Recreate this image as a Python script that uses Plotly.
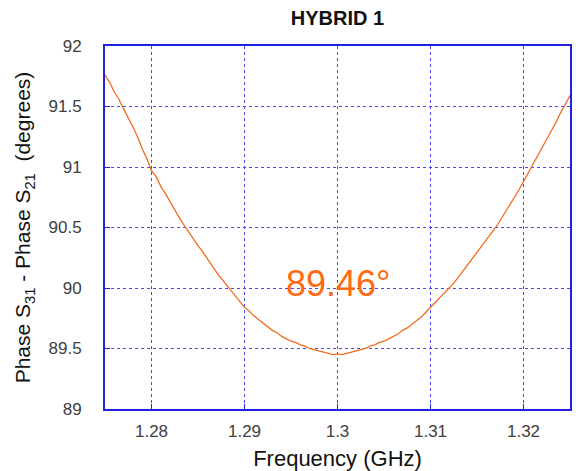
import plotly.graph_objects as go

freq_ghz = [1.2750, 1.2755, 1.2760, 1.2765, 1.2770, 1.2775, 1.2780, 1.2785, 1.2790, 1.2795,
            1.2800, 1.2805, 1.2810, 1.2815, 1.2820, 1.2825, 1.2830, 1.2835, 1.2840, 1.2845,
            1.2850, 1.2855, 1.2860, 1.2865, 1.2870, 1.2875, 1.2880, 1.2885, 1.2890, 1.2895,
            1.2900, 1.2905, 1.2910, 1.2915, 1.2920, 1.2925, 1.2930, 1.2935, 1.2940, 1.2945,
            1.2950, 1.2955, 1.2960, 1.2965, 1.2970, 1.2975, 1.2980, 1.2985, 1.2990, 1.2995,
            1.3000, 1.3005, 1.3010, 1.3015, 1.3020, 1.3025, 1.3030, 1.3035, 1.3040, 1.3045,
            1.3050, 1.3055, 1.3060, 1.3065, 1.3070, 1.3075, 1.3080, 1.3085, 1.3090, 1.3095,
            1.3100, 1.3105, 1.3110, 1.3115, 1.3120, 1.3125, 1.3130, 1.3135, 1.3140, 1.3145,
            1.3150, 1.3155, 1.3160, 1.3165, 1.3170, 1.3175, 1.3180, 1.3185, 1.3190, 1.3195,
            1.3200, 1.3205, 1.3210, 1.3215, 1.3220, 1.3225, 1.3230, 1.3235, 1.3240, 1.3245,
            1.3250]
phase_diff = [91.76, 91.70, 91.62, 91.56, 91.48, 91.41, 91.33, 91.25, 91.15, 91.07,
              90.97, 90.92, 90.84, 90.78, 90.71, 90.65, 90.58, 90.52, 90.46, 90.41,
              90.35, 90.30, 90.24, 90.19, 90.13, 90.08, 90.03, 89.98, 89.93, 89.89,
              89.84, 89.81, 89.77, 89.74, 89.71, 89.68, 89.65, 89.63, 89.60, 89.58,
              89.56, 89.55, 89.53, 89.52, 89.50, 89.49, 89.48, 89.47, 89.46, 89.45,
              89.455, 89.45, 89.46, 89.47, 89.48, 89.485, 89.50, 89.52, 89.53, 89.55,
              89.56, 89.58, 89.60, 89.62, 89.65, 89.67, 89.70, 89.73, 89.76, 89.80,
              89.84, 89.88, 89.92, 89.96, 90.00, 90.04, 90.09, 90.14, 90.19, 90.24,
              90.29, 90.34, 90.39, 90.44, 90.50, 90.56, 90.62, 90.68, 90.75, 90.81,
              90.88, 90.95, 91.02, 91.08, 91.15, 91.22, 91.30, 91.37, 91.45, 91.52,
              91.59]
x_ticks = [1.28, 1.29, 1.30, 1.31, 1.32]
x_tick_labels = ["1.28", "1.29", "1.3", "1.31", "1.32"]
y_ticks = [89, 89.5, 90, 90.5, 91, 91.5, 92]
y_tick_labels = ["89", "89.5", "90", "90.5", "91", "91.5", "92"]
min_label = "89.46°"
min_pos = (1.3001, 90.04)

FONT = "Liberation Sans, Arial"

fig = go.Figure()
fig.add_trace(go.Scatter(x=freq_ghz, y=phase_diff, mode="lines",
                         line=dict(color="#F26B1D", width=1.3), showlegend=False))

fig.add_annotation(x=min_pos[0], y=min_pos[1], text=min_label, showarrow=False,
                   font=dict(family=FONT, size=36, color="#FF6A13"),
                   xanchor="center", yanchor="middle")

axis_common = dict(
    showgrid=True, gridcolor="#4848F0", griddash="dot", gridwidth=1,
    showline=True, linecolor="#2020E0", linewidth=2, mirror=True,
    ticks="inside", ticklen=5, tickcolor="#2020E0", tickwidth=1,
    tickfont=dict(family=FONT, size=17, color="#404040"),
    zeroline=False, automargin=False,
)

fig.update_xaxes(range=[1.275, 1.325], tickvals=x_ticks, ticktext=x_tick_labels,
                 title=dict(text="Frequency (GHz)", standoff=10,
                            font=dict(family=FONT, size=22, color="#111")),
                 ticklabelstandoff=6, **axis_common)
fig.update_yaxes(range=[89, 92], tickvals=y_ticks, ticktext=y_tick_labels,
                 title=dict(text="Phase S<sub>31</sub> - Phase S<sub>21</sub>  (degrees)", standoff=12,
                            font=dict(family=FONT, size=21, color="#111")),
                 ticklabelstandoff=18, **axis_common)

fig.update_layout(
    width=582, height=471,
    margin=dict(l=105, r=12, t=46, b=62),
    paper_bgcolor="white", plot_bgcolor="white",
    title=dict(text="<b>HYBRID 1</b>", x=(105 + 570) / 2 / 582, xanchor="center",
               y=1 - 18 / 471, yanchor="middle",
               font=dict(family=FONT, size=20, color="#111")),
)

fig.write_html("out.html")
